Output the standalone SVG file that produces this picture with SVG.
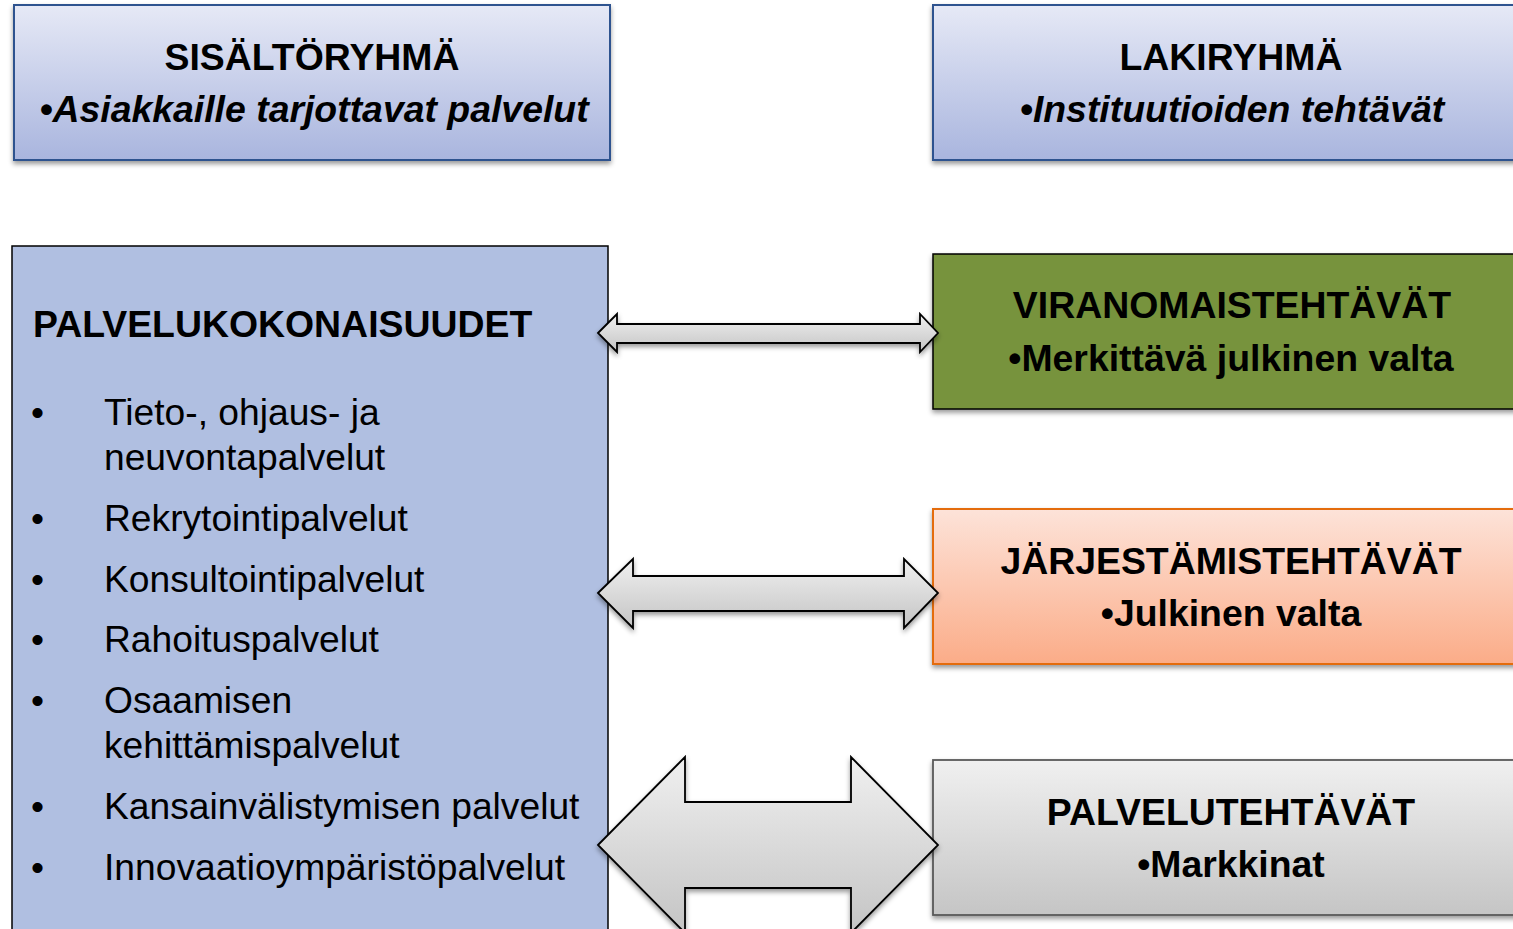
<svg xmlns="http://www.w3.org/2000/svg" width="1513" height="929" viewBox="0 0 1513 929">
<style>
text{font-family:"Liberation Sans",Arial,sans-serif;fill:#000}
.h{font-size:37.4px;font-weight:bold}
.hi{font-size:37.4px;font-weight:bold;font-style:italic}
.li{font-size:37.2px}
.arrow{fill:url(#gArrow);stroke:#000;stroke-width:1.8;stroke-linejoin:miter;filter:url(#sh)}
</style>
<defs>
<linearGradient id="gBlue" x1="0" y1="0" x2="0" y2="1"><stop offset="0" stop-color="#e6e9f6"/><stop offset="1" stop-color="#a9b5de"/></linearGradient>
<linearGradient id="gOrange" x1="0" y1="0" x2="0" y2="1"><stop offset="0" stop-color="#fde3d9"/><stop offset="1" stop-color="#fbac88"/></linearGradient>
<linearGradient id="gGray" x1="0" y1="0" x2="0" y2="1"><stop offset="0" stop-color="#f0f0f0"/><stop offset="1" stop-color="#c5c5c5"/></linearGradient>
<linearGradient id="gArrow" x1="0" y1="0" x2="0" y2="1"><stop offset="0" stop-color="#f0f0f0"/><stop offset="1" stop-color="#c4c4c4"/></linearGradient>
<filter id="sh" x="-10%" y="-10%" width="120%" height="130%"><feDropShadow dx="0" dy="3" stdDeviation="2.5" flood-color="#000" flood-opacity="0.4"/></filter>
</defs>

<g id="sisaltoryhma">
<rect x="14" y="5" width="596" height="155" fill="url(#gBlue)" stroke="#2f528f" stroke-width="2" filter="url(#sh)"/>
<text class="h" x="312" y="70" text-anchor="middle">SISÄLTÖRYHMÄ</text>
<text class="hi" x="314" y="122" text-anchor="middle">•Asiakkaille tarjottavat palvelut</text>
</g>

<g id="lakiryhma">
<rect x="933" y="5" width="596" height="155" fill="url(#gBlue)" stroke="#2f528f" stroke-width="2" filter="url(#sh)"/>
<text class="h" x="1231" y="70" text-anchor="middle">LAKIRYHMÄ</text>
<text class="hi" x="1232" y="122" text-anchor="middle">•Instituutioiden tehtävät</text>
</g>

<g id="palvelukokonaisuudet">
<rect x="12" y="246" width="596" height="700" fill="#b0bfe1" stroke="#000" stroke-width="1.5"/>
<text class="h" x="33" y="337">PALVELUKOKONAISUUDET</text>
<text class="li" x="31" y="425">•</text><text class="li" x="104" y="425">Tieto-, ohjaus- ja</text>
<text class="li" x="104" y="470">neuvontapalvelut</text>
<text class="li" x="31" y="531">•</text><text class="li" x="104" y="531">Rekrytointipalvelut</text>
<text class="li" x="31" y="592">•</text><text class="li" x="104" y="592">Konsultointipalvelut</text>
<text class="li" x="31" y="652">•</text><text class="li" x="104" y="652">Rahoituspalvelut</text>
<text class="li" x="31" y="713">•</text><text class="li" x="104" y="713">Osaamisen</text>
<text class="li" x="104" y="758">kehittämispalvelut</text>
<text class="li" x="31" y="819">•</text><text class="li" x="104" y="819">Kansainvälistymisen palvelut</text>
<text class="li" x="31" y="880">•</text><text class="li" x="104" y="880">Innovaatioympäristöpalvelut</text>
</g>

<g id="viranomaistehtavat">
<rect x="933" y="254" width="596" height="155" fill="#77933c" stroke="#000" stroke-width="1.5" filter="url(#sh)"/>
<text class="h" x="1232" y="318" text-anchor="middle">VIRANOMAISTEHTÄVÄT</text>
<text class="h" x="1231" y="371" text-anchor="middle">•Merkittävä julkinen valta</text>
</g>

<g id="jarjestamistehtavat">
<rect x="933" y="509" width="596" height="155" fill="url(#gOrange)" stroke="#e46c0a" stroke-width="2" filter="url(#sh)"/>
<text class="h" x="1231" y="574" text-anchor="middle">JÄRJESTÄMISTEHTÄVÄT</text>
<text class="h" x="1231" y="626" text-anchor="middle">•Julkinen valta</text>
</g>

<g id="palvelutehtavat">
<rect x="933" y="760" width="596" height="155" fill="url(#gGray)" stroke="#595959" stroke-width="1.8" filter="url(#sh)"/>
<text class="h" x="1231" y="825" text-anchor="middle">PALVELUTEHTÄVÄT</text>
<text class="h" x="1231" y="877" text-anchor="middle">•Markkinat</text>
</g>

<g id="connectors">
<path class="arrow" d="M598,333 L617,314 L617,324 L920,324 L920,314 L938,333 L920,352 L920,343 L617,343 L617,352 Z"/>
<path class="arrow" d="M598,593 L633,559 L633,576 L904,576 L904,559 L938,593 L904,628 L904,611 L633,611 L633,628 Z"/>
<path class="arrow" d="M598,845 L685,757 L685,802 L851,802 L851,757 L938,845 L851,933 L851,888 L685,888 L685,933 Z"/>
</g>
</svg>
